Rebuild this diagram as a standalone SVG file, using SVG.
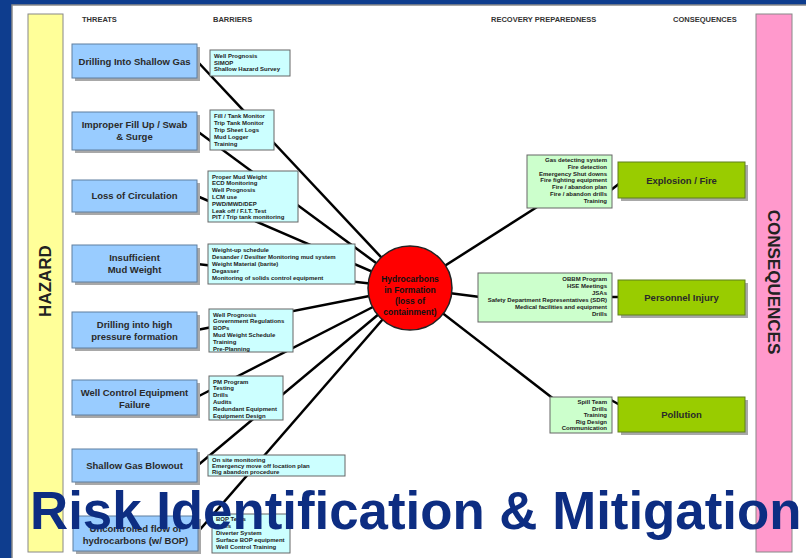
<svg xmlns="http://www.w3.org/2000/svg" width="806" height="558" viewBox="0 0 806 558">
<style>
text{font-family:"Liberation Sans",Arial,sans-serif}
.hdr{font-size:7.5px;font-weight:bold;fill:#333}
.thr{font-size:9.5px;font-weight:bold;fill:#2a2a2a;text-anchor:middle}
.bar{font-size:6px;font-weight:bold;fill:#222}
.rec{font-size:6px;font-weight:bold;fill:#222;text-anchor:end}
.side{font-size:17px;font-weight:bold;fill:#222;text-anchor:middle}
.tbox{fill:#99ccff;stroke:#5f7f9f;stroke-width:1}
.bbox{fill:#ccffff;stroke:#666;stroke-width:1}
.rbox{fill:#ccffcc;stroke:#666;stroke-width:1}
.cbox{fill:#99cc00;stroke:#5f7f1f;stroke-width:1}
.shd{fill:#a8a8a8}
.conn line{stroke:#000;stroke-width:2.5}
</style>
<rect x="0" y="0" width="806" height="558" fill="#0e3d8e"/>
<rect x="12" y="5" width="800" height="560" fill="#ffffff" stroke="#8a8a8a" stroke-width="1.5"/>

<g id="hazard">
<rect x="28" y="14" width="35" height="538" fill="#ffff99" stroke="#888"/>
<text class="side" transform="translate(51,281) rotate(-90)">HAZARD</text>
</g>
<g id="consequences">
<rect x="756" y="14" width="36" height="538" fill="#ff99cc" stroke="#888"/>
<text class="side" transform="translate(768,282) rotate(90)">CONSEQUENCES</text>
</g>

<g id="headers">
<text class="hdr" x="82" y="22">THREATS</text>
<text class="hdr" x="213" y="22">BARRIERS</text>
<text class="hdr" x="491" y="22">RECOVERY PREPAREDNESS</text>
<text class="hdr" x="673" y="22">CONSEQUENCES</text>
</g>

<g id="connectors" class="conn">
<line x1="197" y1="61" x2="410" y2="288"/>
<line x1="197" y1="131" x2="410" y2="288"/>
<line x1="197" y1="196" x2="410" y2="288"/>
<line x1="197" y1="264" x2="410" y2="288"/>
<line x1="197" y1="330" x2="410" y2="288"/>
<line x1="197" y1="397" x2="410" y2="288"/>
<line x1="197" y1="466" x2="410" y2="288"/>
<line x1="197" y1="533" x2="410" y2="288"/>
<line x1="410" y1="288" x2="537" y2="207"/>
<line x1="410" y1="288" x2="480" y2="297"/>
<line x1="410" y1="288" x2="555" y2="400"/>
<line x1="611" y1="190" x2="620" y2="183"/>
<line x1="611" y1="297" x2="620" y2="297"/>
<line x1="611" y1="400" x2="620" y2="405"/>
</g>

<g id="threat1"><rect class="shd" x="75" y="47" width="125" height="34"/><rect class="tbox" x="72" y="44" width="125" height="34"/><text class="thr" x="134.5" y="65">Drilling Into Shallow Gas</text></g>
<g id="threat2"><rect class="shd" x="75" y="115" width="125" height="38"/><rect class="tbox" x="72" y="112" width="125" height="38"/><text class="thr" x="134.5" y="128">Improper Fill Up / Swab</text><text class="thr" x="134.5" y="140">&amp; Surge</text></g>
<g id="threat3"><rect class="shd" x="75" y="183" width="125" height="32"/><rect class="tbox" x="72" y="180" width="125" height="32"/><text class="thr" x="134.5" y="199">Loss of Circulation</text></g>
<g id="threat4"><rect class="shd" x="75" y="248" width="125" height="37"/><rect class="tbox" x="72" y="245" width="125" height="37"/><text class="thr" x="134.5" y="261">Insufficient</text><text class="thr" x="134.5" y="273">Mud Weight</text></g>
<g id="threat5"><rect class="shd" x="75" y="315" width="125" height="36"/><rect class="tbox" x="72" y="312" width="125" height="36"/><text class="thr" x="134.5" y="328">Drilling into high</text><text class="thr" x="134.5" y="340">pressure formation</text></g>
<g id="threat6"><rect class="shd" x="75" y="383" width="125" height="35"/><rect class="tbox" x="72" y="380" width="125" height="35"/><text class="thr" x="134.5" y="396">Well Control Equipment</text><text class="thr" x="134.5" y="408">Failure</text></g>
<g id="threat7"><rect class="shd" x="75" y="452" width="125" height="33"/><rect class="tbox" x="72" y="449" width="125" height="33"/><text class="thr" x="134.5" y="469">Shallow Gas Blowout</text></g>
<g id="threat8"><rect class="shd" x="76" y="519" width="125" height="35"/><rect class="tbox" x="73" y="516" width="125" height="35"/><text class="thr" x="135.5" y="532">Uncontrolled flow of</text><text class="thr" x="135.5" y="544">hydrocarbons (w/ BOP)</text></g>

<g id="barrier1"><rect class="bbox" x="210" y="50" width="80" height="26"/><text class="bar" x="214" y="58">Well Prognosis</text><text class="bar" x="214" y="64.5">SIMOP</text><text class="bar" x="214" y="71">Shallow Hazard Survey</text></g>
<g id="barrier2"><rect class="bbox" x="210" y="110" width="64" height="40"/><text class="bar" x="214" y="118">Fill / Tank Monitor</text><text class="bar" x="214" y="125">Trip Tank Monitor</text><text class="bar" x="214" y="132">Trip Sheet Logs</text><text class="bar" x="214" y="139">Mud Logger</text><text class="bar" x="214" y="146">Training</text></g>
<g id="barrier3"><rect class="bbox" x="208" y="171" width="90" height="51"/><text class="bar" x="212" y="178.5">Proper Mud Weight</text><text class="bar" x="212" y="185.3">ECD Monitoring</text><text class="bar" x="212" y="192.1">Well Prognosis</text><text class="bar" x="212" y="198.9">LCM use</text><text class="bar" x="212" y="205.7">PWD/MWD/DEP</text><text class="bar" x="212" y="212.5">Leak off / F.I.T. Test</text><text class="bar" x="212" y="219.3">PIT / Trip tank monitoring</text></g>
<g id="barrier4"><rect class="bbox" x="208" y="244" width="147" height="40"/><text class="bar" x="212" y="251.5">Weight-up schedule</text><text class="bar" x="212" y="258.5">Desander / Desilter Monitoring mud system</text><text class="bar" x="212" y="265.5">Weight Material (barite)</text><text class="bar" x="212" y="272.5">Degasser</text><text class="bar" x="212" y="279.5">Monitoring of solids control equipment</text></g>
<g id="barrier5"><rect class="bbox" x="209" y="309" width="84" height="43"/><text class="bar" x="213" y="316.5">Well Prognosis</text><text class="bar" x="213" y="323.3">Government Regulations</text><text class="bar" x="213" y="330.1">BOPs</text><text class="bar" x="213" y="336.9">Mud Weight Schedule</text><text class="bar" x="213" y="343.7">Training</text><text class="bar" x="213" y="350.5">Pre-Planning</text></g>
<g id="barrier6"><rect class="bbox" x="209" y="376" width="74" height="44"/><text class="bar" x="213" y="383.5">PM Program</text><text class="bar" x="213" y="390.3">Testing</text><text class="bar" x="213" y="397.1">Drills</text><text class="bar" x="213" y="403.9">Audits</text><text class="bar" x="213" y="410.7">Redundant Equipment</text><text class="bar" x="213" y="417.5">Equipment Design</text></g>
<g id="barrier7"><rect class="bbox" x="208" y="455" width="137" height="21"/><text class="bar" x="212" y="462">On site monitoring</text><text class="bar" x="212" y="468">Emergency move off location plan</text><text class="bar" x="212" y="474">Rig abandon procedure</text></g>
<g id="barrier8"><rect class="bbox" x="212" y="514" width="78" height="39"/><text class="bar" x="216" y="521">BOP Tests</text><text class="bar" x="216" y="528">Drills</text><text class="bar" x="216" y="535">Diverter System</text><text class="bar" x="216" y="542">Surface BOP equipment</text><text class="bar" x="216" y="549">Well Control Training</text></g>

<g id="hub">
<circle cx="410" cy="288" r="42" fill="#ff0000" stroke="#222" stroke-width="1.5"/>
<text class="thr" x="410" y="282" style="font-size:8.5px;fill:#111">Hydrocarbons</text>
<text class="thr" x="410" y="293" style="font-size:8.5px;fill:#111">in Formation</text>
<text class="thr" x="410" y="304" style="font-size:8.5px;fill:#111">(loss of</text>
<text class="thr" x="410" y="315" style="font-size:8.5px;fill:#111">containment)</text>
</g>

<g id="recovery1"><rect class="rbox" x="527" y="155" width="85" height="53"/><text class="rec" x="607" y="162">Gas detecting system</text><text class="rec" x="607" y="168.8">Fire detection</text><text class="rec" x="607" y="175.6">Emergency Shut downs</text><text class="rec" x="607" y="182.4">Fire fighting equipment</text><text class="rec" x="607" y="189.2">Fire / abandon plan</text><text class="rec" x="607" y="196">Fire / abandon drills</text><text class="rec" x="607" y="202.8">Training</text></g>
<g id="recovery2"><rect class="rbox" x="478" y="273" width="134" height="49"/><text class="rec" x="607" y="281">OBBM Program</text><text class="rec" x="607" y="288">HSE Meetings</text><text class="rec" x="607" y="295">JSAs</text><text class="rec" x="607" y="302">Safety Department Representatives (SDR)</text><text class="rec" x="607" y="309">Medical facilities and equipment</text><text class="rec" x="607" y="316">Drills</text></g>
<g id="recovery3"><rect class="rbox" x="550" y="397" width="62" height="36"/><text class="rec" x="607" y="404">Spill Team</text><text class="rec" x="607" y="410.6">Drills</text><text class="rec" x="607" y="417.2">Training</text><text class="rec" x="607" y="423.8">Rig Design</text><text class="rec" x="607" y="430.4">Communication</text></g>

<g id="explosion"><rect class="shd" x="621" y="165" width="127" height="36"/><rect class="cbox" x="618" y="162" width="127" height="36"/><text class="thr" x="681.5" y="184">Explosion / Fire</text></g>
<g id="injury"><rect class="shd" x="621" y="283" width="127" height="35"/><rect class="cbox" x="618" y="280" width="127" height="35"/><text class="thr" x="681.5" y="301">Personnel Injury</text></g>
<g id="pollution"><rect class="shd" x="621" y="400" width="127" height="35"/><rect class="cbox" x="618" y="397" width="127" height="35"/><text class="thr" x="681.5" y="418">Pollution</text></g>

<text x="30" y="529" style="font-size:52.8px;font-weight:bold;fill:#0d2d82">Risk Identification &amp; Mitigation</text>
</svg>
